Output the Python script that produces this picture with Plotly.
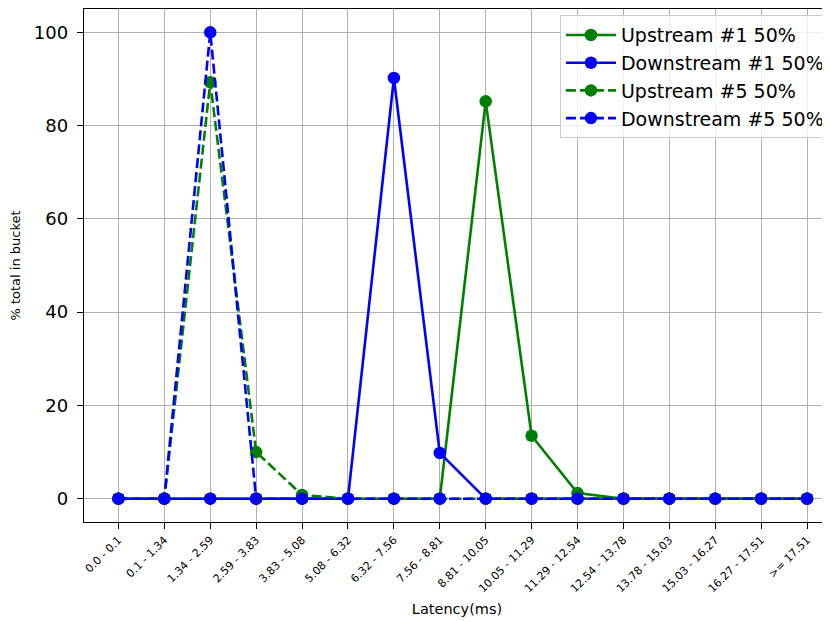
import plotly.graph_objects as go

categories = ["0.0 - 0.1", "0.1 - 1.34", "1.34 - 2.59", "2.59 - 3.83", "3.83 - 5.08",
              "5.08 - 6.32", "6.32 - 7.56", "7.56 - 8.81", "8.81 - 10.05", "10.05 - 11.29",
              "11.29 - 12.54", "12.54 - 13.78", "13.78 - 15.03", "15.03 - 16.27",
              "16.27 - 17.51", ">= 17.51"]

upstream_1 = [0, 0, 0, 0, 0, 0, 0, 0, 85.2, 13.5, 1.2, 0, 0, 0, 0, 0]
downstream_1 = [0, 0, 0, 0, 0, 0, 90.2, 9.8, 0, 0, 0, 0, 0, 0, 0, 0]
upstream_5 = [0, 0, 89.3, 10.0, 0.8, 0, 0, 0, 0, 0, 0, 0, 0, 0, 0, 0]
downstream_5 = [0, 0, 100, 0, 0, 0, 0, 0, 0, 0, 0, 0, 0, 0, 0, 0]

y_ticks = [0, 20, 40, 60, 80, 100]

series = [
    ("Upstream #1 50%", upstream_1, "green", "solid"),
    ("Downstream #1 50%", downstream_1, "blue", "solid"),
    ("Upstream #5 50%", upstream_5, "green", "10px,4px"),
    ("Downstream #5 50%", downstream_5, "blue", "10px,4px"),
]

xs = list(range(len(categories)))
fig = go.Figure()
for name, vals, color, dash in series:
    fig.add_trace(go.Scatter(
        x=xs, y=vals, name=name, mode="lines+markers",
        line=dict(color=color, width=2.6, dash=dash),
        marker=dict(color=color, size=12.5),
    ))

fig.update_layout(
    width=830, height=622,
    margin=dict(l=76, r=8, t=1, b=108),
    plot_bgcolor="white", paper_bgcolor="white",
    font=dict(family="DejaVu Sans", color="black"),
    showlegend=True,
    legend=dict(
        x=0.638, y=0.988, xanchor="left", yanchor="top",
        bgcolor="rgba(255,255,255,0.8)", bordercolor="#cccccc", borderwidth=1,
        font=dict(size=19), tracegroupgap=0, itemwidth=50,
    ),
)
fig.update_xaxes(
    tickmode="array", tickvals=xs, ticktext=categories, tickangle=-45,
    tickfont=dict(size=11), range=[-0.75, 15.5], automargin=False,
    showgrid=True, gridcolor="#b0b0b0", gridwidth=1.4,
    showline=True, linecolor="black", linewidth=1.4, mirror=True,
    ticks="outside", ticklen=6, tickwidth=1.4, tickcolor="black", zeroline=False,
    title=dict(text="Latency(ms)", font=dict(size=14.5), standoff=9),
)
fig.update_yaxes(
    tickvals=y_ticks, range=[-5, 105], automargin=False,
    tickfont=dict(size=18), ticklabelstandoff=5,
    showgrid=True, gridcolor="#b0b0b0", gridwidth=1.4,
    showline=True, linecolor="black", linewidth=1.4, mirror=False,
    ticks="outside", ticklen=6, tickwidth=1.4, tickcolor="black", zeroline=False,
    title=dict(text="% total in bucket", font=dict(size=13), standoff=10),
)

fig.write_html("out.html")
